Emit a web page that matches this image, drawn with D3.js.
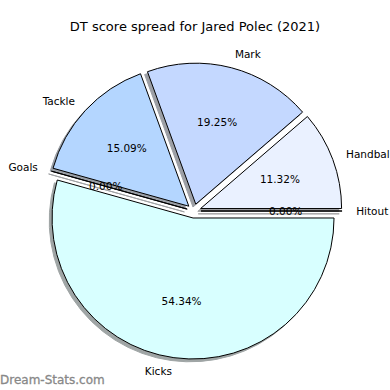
<!DOCTYPE html>
<html>
<head>
<meta charset="utf-8">
<script src="https://cdn.jsdelivr.net/npm/d3@7"></script>
<style>
  html, body { margin: 0; padding: 0; background: #fff; }
  svg { display: block; font-family: "DejaVu Sans", sans-serif; }
</style>
</head>
<body>
<div id="chart"></div>
<script>
(function() {
  'use strict';

  // DT points per stat, Jared Polec 2021
  const categories = ['Hitout', 'Handball', 'Mark', 'Tackle', 'Goals', 'Kicks'];
  const values = [0, 30, 51, 40, 0, 144];
  const colors = ['#f4f8ff', '#eaf1ff', '#c4d8ff', '#b4d6ff', '#e0f0ff', '#d8ffff'];
  const title = 'DT score spread for Jared Polec (2021)';

  const width = 390, height = 390;
  const cx = 194, cy = 211, r = 141;
  const explode = 0.05 * r;
  const shadowOff = 0.02 * r;

  const svg = d3.select('#chart')
    .append('svg')
    .attr('width', width)
    .attr('height', height);

  svg.append('rect').attr('width', width).attr('height', height).attr('fill', '#fff');

  // matplotlib style: start at 3 o'clock, go counter-clockwise
  const pie = d3.pie()
    .sort(null)
    .value(d => d)
    .startAngle(Math.PI / 2)
    .endAngle(Math.PI / 2 - 2 * Math.PI);

  const arcs = pie(values).map((a, i) => {
    const mid = (a.startAngle + a.endAngle) / 2;
    const dx = Math.cos(mid - Math.PI / 2), dy = Math.sin(mid - Math.PI / 2);
    return Object.assign(a, {
      i, mid, dx, dy,
      ox: cx + explode * dx,
      oy: cy + explode * dy
    });
  });

  const arc = d3.arc().innerRadius(0).outerRadius(r);
  const total = d3.sum(values);

  // Shadows under everything
  const shade = c => {
    const rgb = d3.rgb(c);
    return d3.rgb(rgb.r * 0.3, rgb.g * 0.3, rgb.b * 0.3).toString();
  };
  svg.append('g')
    .selectAll('path')
    .data(arcs)
    .join('path')
    .attr('transform', d => `translate(${d.ox - shadowOff},${d.oy + shadowOff})`)
    .attr('d', arc)
    .attr('fill', d => shade(colors[d.i]))
    .attr('stroke', d => shade(colors[d.i]))
    .attr('stroke-width', 1)
    .attr('opacity', 0.5);

  // Wedges
  svg.append('g')
    .selectAll('path')
    .data(arcs)
    .join('path')
    .attr('transform', d => `translate(${d.ox},${d.oy})`)
    .attr('d', arc)
    .attr('fill', d => colors[d.i])
    .attr('stroke', '#000')
    .attr('stroke-width', 1)
    .attr('stroke-linejoin', 'miter');

  // Category labels at 1.1 r
  svg.append('g')
    .selectAll('text')
    .data(arcs)
    .join('text')
    .attr('x', d => d.ox + 1.1 * r * d.dx)
    .attr('y', d => d.oy + 1.1 * r * d.dy)
    .attr('dy', '0.35em')
    .attr('text-anchor', d => (d.ox + 1.1 * r * d.dx) > cx ? 'start' : 'end')
    .attr('font-size', 10.5)
    .attr('fill', '#000')
    .text(d => categories[d.i]);

  // Percent labels at 0.6 r
  svg.append('g')
    .selectAll('text')
    .data(arcs)
    .join('text')
    .attr('x', d => d.ox + 0.6 * r * d.dx)
    .attr('y', d => d.oy + 0.6 * r * d.dy)
    .attr('dy', '0.35em')
    .attr('text-anchor', 'middle')
    .attr('font-size', 10.5)
    .attr('fill', '#000')
    .text(d => (d.value / total * 100).toFixed(2) + '%');

  svg.append('text')
    .attr('x', 195)
    .attr('y', 26)
    .attr('dy', '0.35em')
    .attr('text-anchor', 'middle')
    .attr('font-size', 13)
    .text(title);

  svg.append('text')
    .attr('x', 0)
    .attr('y', 380)
    .attr('dy', '0.35em')
    .attr('font-size', 12)
    .attr('fill', '#888')
    .attr('stroke', '#888')
    .attr('stroke-width', 0.3)
    .text('Dream-Stats.com');
})();
</script>
</body>
</html>
